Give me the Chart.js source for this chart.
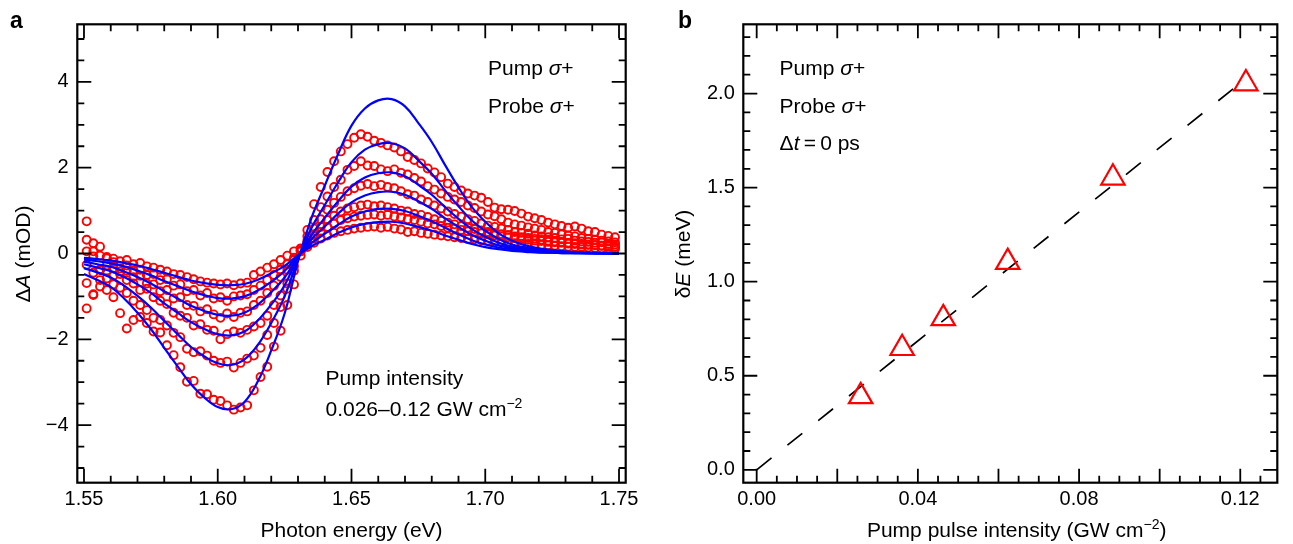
<!DOCTYPE html>
<html><head><meta charset="utf-8">
<script src="https://cdn.jsdelivr.net/npm/chart.js@4/dist/chart.umd.min.js"></script>
<style>
html,body{margin:0;padding:0;background:#fff;}
#wrap{position:relative;width:1293px;height:544px;overflow:hidden;background:#fff;}
canvas{position:absolute;top:0;}
#ca{left:0;} #cb{left:646px;}
</style></head><body>
<div id="wrap"><canvas id="ca" width="646" height="544"></canvas><canvas id="cb" width="647" height="544"></canvas></div>
<script>
// ---------- Panel a: data (photon energy, eV) ----------
const dataE = [1.551,1.5535,1.556,1.5585,1.561,1.5635,1.566,1.5685,1.571,1.5735,
1.576,1.5785,1.581,1.5835,1.586,1.5885,1.591,1.5935,1.596,1.5985,
1.601,1.6035,1.606,1.6085,1.611,1.6135,1.616,1.6185,1.621,1.6235,
1.626,1.6285,1.631,1.6335,1.636,1.6385,1.641,1.6435,1.646,1.6485,
1.651,1.6535,1.656,1.6585,1.661,1.6635,1.666,1.6685,1.671,1.6735,
1.676,1.6785,1.681,1.6835,1.686,1.6885,1.691,1.6935,1.696,1.6985,
1.701,1.7035,1.706,1.7085,1.711,1.7135,1.716,1.7185,1.721,1.7235,
1.726,1.7285,1.731,1.7335,1.736,1.7385,1.741,1.7435,1.746,1.7485];

const meas1 = [0.75,0.05,-0.05,-0.08,-0.12,-0.18,-0.15,-0.25,-0.22,-0.30,-0.33,-0.38,-0.42,-0.48,-0.50,-0.55,-0.60,-0.65,-0.68,-0.70,-0.72,-0.70,-0.74,-0.70,-0.68,-0.50,-0.42,-0.33,-0.25,-0.15,-0.05,0.05,0.12,
0.15,0.25,0.35,0.42,0.48,0.52,0.55,0.58,0.60,0.62,0.63,0.60,0.62,0.58,0.56,0.50,0.52,0.48,0.46,0.44,0.42,0.40,0.38,0.36,0.34,0.33,0.31,0.30,0.28,0.27,0.26,0.24,0.23,0.22,0.21,0.20,0.19,0.18,0.17,0.16,0.15,0.15,0.14,0.13,0.12,0.12,0.11];
const meas2 = [0.32,0.24,0.16,-0.28,-0.20,-0.35,-0.28,-0.40,-0.38,-0.50,-0.48,-0.62,-0.60,-0.75,-0.72,-0.88,-0.85,-0.98,-0.92,-1.05,-1.02,-1.10,-1.00,-0.98,-0.95,-0.85,-0.75,-0.62,-0.50,-0.38,-0.25,-0.10,0.08,
0.20,0.35,0.50,0.62,0.70,0.78,0.82,0.86,0.88,0.90,0.91,0.88,0.90,0.86,0.84,0.80,0.78,0.74,0.70,0.68,0.64,0.60,0.58,0.55,0.52,0.50,0.47,0.45,0.42,0.40,0.38,0.36,0.34,0.32,0.30,0.29,0.27,0.26,0.25,0.23,0.22,0.21,0.20,0.19,0.18,0.16,0.15];
const meas3 = [0.05,-0.07,-0.38,-0.11,-0.35,-0.42,-0.40,-0.55,-0.52,-0.70,-0.72,-0.88,-0.85,-1.05,-1.02,-1.20,-1.22,-1.35,-1.30,-1.42,-1.50,-1.40,-1.48,-1.38,-1.35,-1.20,-1.10,-0.92,-0.75,-0.55,-0.38,-0.15,0.05,
0.25,0.45,0.62,0.78,0.88,0.98,1.05,1.08,1.12,1.14,1.10,1.12,1.08,1.05,1.00,0.98,0.92,0.90,0.85,0.80,0.76,0.72,0.68,0.64,0.60,0.57,0.54,0.50,0.48,0.45,0.43,0.40,0.38,0.36,0.34,0.32,0.30,0.28,0.27,0.25,0.24,0.22,0.21,0.20,0.18,0.18,0.16];
const meas4 = [-0.26,-0.45,-0.38,-0.40,-0.52,-0.48,-0.62,-0.70,-0.85,-0.82,-1.02,-1.10,-1.18,-1.38,-1.45,-1.50,-1.68,-1.65,-1.78,-1.80,-2.00,-1.88,-1.82,-1.85,-1.78,-1.70,-1.62,-1.45,-1.20,-0.98,-0.70,-0.30,0.08,
0.30,0.58,0.80,1.02,1.18,1.32,1.45,1.52,1.58,1.62,1.57,1.60,1.55,1.52,1.45,1.38,1.35,1.26,1.20,1.12,1.05,0.98,0.92,0.86,0.80,0.76,0.70,0.65,0.62,0.58,0.55,0.50,0.48,0.46,0.42,0.40,0.38,0.36,0.33,0.34,0.30,0.28,0.27,0.25,0.26,0.22,0.21];
const meas5 = [-0.69,-0.95,-0.62,-0.58,-0.72,-0.80,-0.92,-1.10,-1.20,-1.32,-1.50,-1.55,-1.68,-1.85,-1.95,-2.22,-2.30,-2.28,-2.38,-2.50,-2.55,-2.52,-2.66,-2.55,-2.45,-2.38,-2.20,-1.90,-1.62,-1.25,-0.82,-0.40,0.05,
0.40,0.78,1.08,1.33,1.55,1.72,1.95,2.04,2.15,2.05,2.04,1.96,1.92,1.96,1.88,1.84,1.76,1.68,1.57,1.49,1.40,1.32,1.26,1.20,1.12,1.06,0.98,0.91,0.87,0.80,0.72,0.68,0.65,0.61,0.58,0.55,0.50,0.48,0.45,0.42,0.40,0.36,0.34,0.32,0.30,0.28,0.26];
const meas6 = [-1.28,-0.97,-0.77,-0.85,-1.02,-1.39,-1.75,-1.55,-1.48,-1.62,-1.82,-1.84,-2.14,-2.37,-2.65,-2.99,-2.97,-3.27,-3.28,-3.41,-3.44,-3.54,-3.64,-3.59,-3.54,-3.19,-2.88,-2.64,-2.17,-1.80,-1.20,-0.72,-0.05,
0.55,1.15,1.55,1.90,2.15,2.38,2.55,2.70,2.78,2.72,2.63,2.58,2.52,2.47,2.38,2.25,2.18,2.10,1.98,1.89,1.78,1.63,1.55,1.47,1.40,1.35,1.30,1.20,1.07,1.03,1.02,0.99,0.93,0.86,0.82,0.78,0.72,0.68,0.64,0.60,0.63,0.58,0.52,0.50,0.44,0.41,0.38];

// ---------- Panel a: fitted curves ----------
const fitE = [1.550,1.555,1.560,1.565,1.570,1.575,1.580,1.585,1.590,1.595,
1.600,1.605,1.610,1.615,1.620,1.625,1.630,1.635,1.640,1.645,
1.650,1.655,1.660,1.665,1.670,1.675,1.680,1.685,1.690,1.695,
1.700,1.705,1.710,1.715,1.720,1.725,1.730,1.735,1.740,1.745,1.750];
const fit1 = [-0.10,-0.13,-0.16,-0.22,-0.28,-0.36,-0.45,-0.54,-0.63,-0.69,-0.73,-0.74,-0.71,-0.61,-0.46,-0.29,-0.04,0.17,0.32,0.48,0.61,0.69,0.73,0.74,0.70,0.62,0.53,0.42,0.32,0.22,0.15,0.10,0.06,0.04,0.02,0.02,0.01,0.01,0.00,0.00,0.00];
const fit2 = [-0.14,-0.18,-0.23,-0.30,-0.40,-0.51,-0.64,-0.76,-0.88,-0.97,-1.04,-1.05,-1.00,-0.86,-0.66,-0.41,-0.05,0.24,0.46,0.67,0.86,0.98,1.04,1.04,0.99,0.88,0.75,0.60,0.45,0.31,0.21,0.14,0.09,0.06,0.03,0.02,0.01,0.01,0.01,0.00,0.00];
const fit3 = [-0.19,-0.25,-0.31,-0.42,-0.55,-0.70,-0.88,-1.05,-1.22,-1.34,-1.43,-1.45,-1.38,-1.19,-0.90,-0.56,-0.07,0.33,0.63,0.93,1.19,1.35,1.43,1.44,1.37,1.22,1.04,0.82,0.62,0.43,0.30,0.19,0.12,0.08,0.05,0.03,0.02,0.01,0.01,0.00,0.00];
const fit4 = [-0.25,-0.33,-0.41,-0.55,-0.72,-0.92,-1.16,-1.38,-1.60,-1.76,-1.88,-1.91,-1.82,-1.56,-1.19,-0.74,-0.09,0.43,0.83,1.22,1.56,1.77,1.87,1.89,1.80,1.60,1.37,1.08,0.81,0.57,0.39,0.25,0.16,0.10,0.06,0.04,0.03,0.02,0.01,0.01,0.00];
const fit5 = [-0.34,-0.44,-0.56,-0.75,-0.99,-1.26,-1.57,-1.88,-2.18,-2.40,-2.56,-2.60,-2.47,-2.13,-1.62,-1.00,-0.13,0.59,1.13,1.66,2.13,2.42,2.55,2.57,2.45,2.17,1.86,1.47,1.10,0.77,0.53,0.34,0.21,0.14,0.09,0.06,0.04,0.02,0.01,0.01,0.01];
const fit6 = [-0.48,-0.62,-0.78,-1.05,-1.38,-1.76,-2.20,-2.63,-3.05,-3.36,-3.58,-3.63,-3.46,-2.98,-2.26,-1.40,-0.18,0.82,1.58,2.32,2.98,3.38,3.57,3.60,3.43,3.04,2.60,2.06,1.54,1.08,0.74,0.47,0.30,0.19,0.12,0.08,0.05,0.03,0.02,0.01,0.01];

// ---------- Panel b ----------
const pumpIntensity = [0.0258, 0.0361, 0.0463, 0.0623, 0.0884, 0.1214];
const energyShift   = [0.39, 0.646, 0.805, 1.104, 1.552, 2.053];
const lineX = [0, 0.12];
const lineY = [0, 2.055];

// tick label values
const aXTicks = [1.55, 1.60, 1.65, 1.70, 1.75];
const aYTicks = [-4, -2, 0, 2, 4];
const bXTicks = [0.00, 0.04, 0.08, 0.12];
const bYTicks = [0.0, 0.5, 1.0, 1.5, 2.0];

const FAM = "'Liberation Sans', Arial, Helvetica, sans-serif";
const zip = (xs, ys) => xs.map((x, i) => ({x, y: ys[i]}));

function runFont(r, base) {
  const size = r.size || base;
  return (r.italic ? 'italic ' : '') + (r.bold ? 'bold ' : '') + size + 'px ' + FAM;
}
function drawRuns(ctx, runs, x, y, align, base) {
  let total = 0;
  runs.forEach(r => { ctx.font = runFont(r, base); r._w = ctx.measureText(r.t).width; total += r._w; });
  let cx = align === 'center' ? x - total / 2 : x;
  runs.forEach(r => { ctx.font = runFont(r, base); ctx.fillText(r.t, cx, y + (r.dy || 0)); cx += r._w; });
}

function makeFrame(spec) {
  return {
    id: 'frame_' + spec.name,
    afterDraw(chart) {
      const ctx = chart.ctx, a = chart.chartArea, xs = chart.scales.x, ys = chart.scales.y;
      ctx.save();
      ctx.strokeStyle = '#000';
      ctx.lineWidth = 1.8;
      ctx.beginPath();
      spec.xTicks.forEach(([v, major]) => {
        const p = xs.getPixelForValue(v), L = major ? spec.major : spec.minor;
        ctx.moveTo(p, a.bottom); ctx.lineTo(p, a.bottom - L);
        ctx.moveTo(p, a.top); ctx.lineTo(p, a.top + L);
      });
      spec.yTicks.forEach(([v, major]) => {
        const p = ys.getPixelForValue(v), L = major ? spec.major : spec.minor;
        ctx.moveTo(a.left, p); ctx.lineTo(a.left + L, p);
        ctx.moveTo(a.right, p); ctx.lineTo(a.right - L, p);
      });
      ctx.stroke();
      ctx.lineWidth = 2.2;
      ctx.strokeRect(a.left, a.top, a.right - a.left, a.bottom - a.top);
      ctx.fillStyle = '#000';
      ctx.textBaseline = 'alphabetic';
      spec.texts.forEach(t => {
        if (t.rotate) {
          ctx.save();
          ctx.translate(t.x, t.y);
          ctx.rotate(-Math.PI / 2);
          ctx.textBaseline = 'middle';
          drawRuns(ctx, t.runs, 0, 0, 'center', t.size);
          ctx.restore();
        } else {
          drawRuns(ctx, t.runs, t.x, t.y, t.align || 'left', t.size);
        }
      });
      ctx.restore();
    }
  };
}

const minus = v => (v < 0 ? '\u2212' + Math.abs(v) : String(v));
const tickFont = {family: FAM, size: 20};

// ---------------- Chart a ----------------
const aXt = [], aYt = [];
for (let i = 0; i <= 20; i++) aXt.push([1.55 + 0.01 * i, i % 5 === 0]);
for (let i = -10; i <= 10; i++) aYt.push([0.5 * i, i % 4 === 0]);

const redPt = {showLine: false, pointStyle: 'circle', pointRadius: 4, pointBorderWidth: 1.9,
  pointBorderColor: '#ff0000', pointBackgroundColor: 'rgba(0,0,0,0)', borderColor: '#ff0000', order: 1};
const bluLn = {showLine: true, pointRadius: 0, borderColor: '#0000ff', borderWidth: 2.2,
  tension: 0.4, fill: false, order: 0};

new Chart(document.getElementById('ca'), {
  type: 'scatter',
  data: {
    datasets: [
      Object.assign({data: zip(fitE, fit1)}, bluLn),
      Object.assign({data: zip(fitE, fit2)}, bluLn),
      Object.assign({data: zip(fitE, fit3)}, bluLn),
      Object.assign({data: zip(fitE, fit4)}, bluLn),
      Object.assign({data: zip(fitE, fit5)}, bluLn),
      Object.assign({data: zip(fitE, fit6)}, bluLn),
      Object.assign({data: zip(dataE, meas1)}, redPt),
      Object.assign({data: zip(dataE, meas2)}, redPt),
      Object.assign({data: zip(dataE, meas3)}, redPt),
      Object.assign({data: zip(dataE, meas4)}, redPt),
      Object.assign({data: zip(dataE, meas5)}, redPt),
      Object.assign({data: zip(dataE, meas6)}, redPt)
    ]
  },
  options: {
    responsive: false, animation: false, devicePixelRatio: 1,
    layout: {padding: {left: 0, top: 24.3, right: 20.3, bottom: 0}},
    plugins: {legend: {display: false}, tooltip: {enabled: false}},
    scales: {
      x: {type: 'linear', min: 1.5475, max: 1.7525,
          afterFit(s) { s.height = 61.3; },
          afterBuildTicks(s) { s.ticks = aXTicks.map(v => ({value: v})); },
          grid: {display: false, drawTicks: false}, border: {display: false},
          ticks: {font: tickFont, color: '#000', padding: 5, maxRotation: 0, autoSkip: false,
                  callback: v => v.toFixed(2)}},
      y: {type: 'linear', min: -5.343, max: 5.343,
          afterFit(s) { s.width = 77.3; },
          afterBuildTicks(s) { s.ticks = aYTicks.map(v => ({value: v})); },
          grid: {display: false, drawTicks: false}, border: {display: false},
          ticks: {font: tickFont, color: '#000', padding: 8.7, autoSkip: false, callback: v => minus(v)}}
    }
  },
  plugins: [makeFrame({name: 'a', major: 14, minor: 7, xTicks: aXt, yTicks: aYt, texts: [
    {x: 10, y: 28, size: 23, runs: [{t: 'a', bold: true}]},
    {x: 488, y: 75, size: 21, runs: [{t: 'Pump '}, {t: '\u03c3', italic: true}, {t: '+'}]},
    {x: 488, y: 113, size: 21, runs: [{t: 'Probe '}, {t: '\u03c3', italic: true}, {t: '+'}]},
    {x: 325.5, y: 384.5, size: 21, runs: [{t: 'Pump intensity'}]},
    {x: 325.5, y: 415.5, size: 21, runs: [{t: '0.026\u20130.12 GW cm'}, {t: '\u22122', size: 14, dy: -8}]},
    {x: 351.5, y: 537, size: 21, align: 'center', runs: [{t: 'Photon energy (eV)'}]},
    {x: 24, y: 254, size: 21, rotate: true, runs: [{t: '\u0394'}, {t: 'A', italic: true}, {t: ' (mOD)'}]}
  ]})]
});

// ---------------- Chart b ----------------
const bXt = [], bYt = [];
for (let i = 0; i <= 25; i++) bXt.push([0.005 * i, i % 4 === 0]);
for (let i = 0; i <= 23; i++) bYt.push([0.1 * i, i % 5 === 0]);

new Chart(document.getElementById('cb'), {
  type: 'scatter',
  data: {
    datasets: [
      {data: zip(pumpIntensity, energyShift), showLine: false, pointStyle: 'triangle', pointRadius: 13.5,
       pointBorderWidth: 2.2, pointBorderColor: '#ff0000', pointBackgroundColor: 'rgba(0,0,0,0)', order: 0},
      {data: zip(lineX, lineY), showLine: true, pointRadius: 0, borderColor: '#000', borderWidth: 1.7,
       borderDash: [19, 20.4], fill: false, order: 1}
    ]
  },
  options: {
    responsive: false, animation: false, devicePixelRatio: 1,
    layout: {padding: {left: 0, top: 24.3, right: 3, bottom: 0}},
    plugins: {legend: {display: false}, tooltip: {enabled: false}},
    scales: {
      x: {type: 'linear', min: -0.00332, max: 0.12919,
          afterFit(s) { s.height = 61.3; },
          afterBuildTicks(s) { s.ticks = bXTicks.map(v => ({value: v})); },
          grid: {display: false, drawTicks: false}, border: {display: false},
          ticks: {font: tickFont, color: '#000', padding: 5, maxRotation: 0, autoSkip: false,
                  callback: v => v.toFixed(2)}},
      y: {type: 'linear', min: -0.0686, max: 2.368,
          afterFit(s) { s.width = 97.3; },
          afterBuildTicks(s) { s.ticks = bYTicks.map(v => ({value: v})); },
          grid: {display: false, drawTicks: false}, border: {display: false},
          ticks: {font: tickFont, color: '#000', padding: 8.5, autoSkip: false, callback: v => v.toFixed(1)}}
    }
  },
  plugins: [makeFrame({name: 'b', major: 14, minor: 7, xTicks: bXt, yTicks: bYt, texts: [
    {x: 32, y: 28, size: 23, runs: [{t: 'b', bold: true}]},
    {x: 133.6, y: 75, size: 21, runs: [{t: 'Pump '}, {t: '\u03c3', italic: true}, {t: '+'}]},
    {x: 133.6, y: 113, size: 21, runs: [{t: 'Probe '}, {t: '\u03c3', italic: true}, {t: '+'}]},
    {x: 133.6, y: 149.5, size: 21, runs: [{t: '\u0394'}, {t: 't', italic: true}, {t: '\u2009=\u20090 ps'}]},
    {x: 370.7, y: 537, size: 21, align: 'center', runs: [{t: 'Pump pulse intensity (GW cm'}, {t: '\u22122', size: 14, dy: -8}, {t: ')'}]},
    {x: 38, y: 254, size: 21, rotate: true, runs: [{t: '\u03b4'}, {t: 'E', italic: true}, {t: ' (meV)'}]}
  ]})]
});
</script>
</body></html>
